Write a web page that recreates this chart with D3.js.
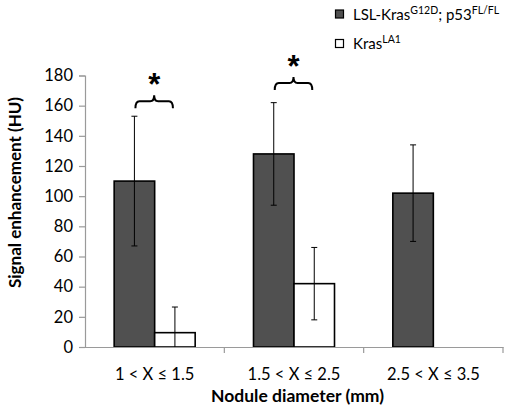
<!DOCTYPE html>
<html><head><meta charset="utf-8">
<script src="https://cdn.jsdelivr.net/npm/d3@7"></script>
<style>body{margin:0;background:#fff;} svg{display:block;}</style>
</head><body>
<svg id="chart" width="509" height="412"></svg>
<script>
const categories = ["1 < X \u2264 1.5", "1.5 < X \u2264 2.5", "2.5 < X \u2264 3.5"];
const seriesNames = ["G12D", "LA1"];
const krasG12D = [110, 128, 102];
const errG12D = [43, 34, 32];
const krasLA1 = [9.5, 42, null];
const errLA1 = [17, 24, null];
const yTicks = [0, 20, 40, 60, 80, 100, 120, 140, 160, 180];
const sigCategories = ["1 < X \u2264 1.5", "1.5 < X \u2264 2.5"];
const sigLevels = [163, 175];

(function() {
const font = "Lato, 'Open Sans', sans-serif";
const svg = d3.select("#chart");
const mLeft = 85, mRight = 503, mTop = 75.5, mBottom = 347;

const y = d3.scaleLinear().domain([0, 180]).range([mBottom, mTop]);
const x0 = d3.scaleBand().domain(categories).range([mLeft, mRight]).paddingInner(0).paddingOuter(0);
const x1 = d3.scaleBand().domain(seriesNames).range([0, x0.bandwidth()]).paddingInner(0).paddingOuter(0.72);

const rows = categories.map((c, i) => ({
  cat: c,
  vals: [
    {s: "G12D", v: krasG12D[i], e: errG12D[i]},
    {s: "LA1", v: krasLA1[i], e: errLA1[i]}
  ]
}));

// y axis
const yAxis = d3.axisLeft(y).tickValues(yTicks).tickSize(6).tickPadding(6);
const gy = svg.append("g").attr("transform", `translate(${mLeft},0)`).call(yAxis);
gy.select(".domain").attr("stroke", "#9a9a9a").attr("stroke-width", 1.2);
gy.selectAll(".tick line").attr("stroke", "#9a9a9a").attr("stroke-width", 1.2);
gy.selectAll(".tick text").attr("font-family", font).attr("font-size", 16.5).attr("fill", "#000");

// bars
const groups = svg.append("g").selectAll("g").data(rows).join("g")
  .attr("transform", d => `translate(${x0(d.cat)},0)`);
const colors = {G12D: "#505050", LA1: "#ffffff"};
groups.selectAll("rect").data(d => d.vals.filter(v => v.v != null)).join("rect")
  .attr("x", d => x1(d.s)).attr("width", x1.bandwidth())
  .attr("y", d => y(d.v)).attr("height", d => y(0) - y(d.v))
  .attr("fill", d => colors[d.s]).attr("stroke", "#000").attr("stroke-width", 1.6);

// x axis
const xAxis = d3.axisBottom(x0).tickSize(0).tickPadding(21);
const gx = svg.append("g").attr("transform", `translate(0,${mBottom})`).call(xAxis);
gx.select(".domain").attr("stroke", "#9a9a9a").attr("stroke-width", 1.2);
gx.selectAll(".tick text").attr("font-family", font).attr("font-size", 16.5).attr("fill", "#000");
const bounds = categories.map(c => x0(c)).concat([mRight]).slice(1);
gx.selectAll("line.bound").data(bounds).join("line").attr("class", "bound")
  .attr("x1", d => d).attr("x2", d => d).attr("y1", 0).attr("y2", 6)
  .attr("stroke", "#9a9a9a").attr("stroke-width", 1.2);

// error bars
const eb = groups.selectAll("g.err").data(d => d.vals.filter(v => v.v != null)).join("g").attr("class", "err");
eb.each(function(d) {
  const g = d3.select(this);
  const cx = x1(d.s) + x1.bandwidth() / 2;
  const hi = d.v + d.e, lo = Math.max(0, d.v - d.e);
  g.append("line").attr("x1", cx).attr("x2", cx).attr("y1", y(hi)).attr("y2", y(lo))
    .attr("stroke", "#000").attr("stroke-width", 1);
  g.append("line").attr("x1", cx - 3).attr("x2", cx + 3).attr("y1", y(hi)).attr("y2", y(hi))
    .attr("stroke", "#000").attr("stroke-width", 1);
  if (d.v - d.e > 0) {
    g.append("line").attr("x1", cx - 3).attr("x2", cx + 3).attr("y1", y(lo)).attr("y2", y(lo))
      .attr("stroke", "#000").attr("stroke-width", 1);
  }
});

// significance brackets
sigCategories.forEach((c, i) => {
  const xa = x0(c) + x1("G12D") + x1.bandwidth() / 2 + 1;
  const xb = x0(c) + x1("LA1") + x1.bandwidth() / 2 - 2;
  const xc = (xa + xb) / 2;
  const yt = y(sigLevels[i]);
  const r = 4;
  const p = d3.path();
  p.moveTo(xa, yt + 7);
  p.quadraticCurveTo(xa, yt, xa + r, yt);
  p.lineTo(xc - r, yt);
  p.quadraticCurveTo(xc, yt, xc, yt - 6);
  p.quadraticCurveTo(xc, yt, xc + r, yt);
  p.lineTo(xb - r, yt);
  p.quadraticCurveTo(xb, yt, xb, yt + 7);
  svg.append("path").attr("d", p.toString()).attr("fill", "none").attr("stroke", "#000").attr("stroke-width", 2);
  svg.append("text").attr("x", xc).attr("y", yt - 6).attr("text-anchor", "middle")
    .attr("font-family", "'Liberation Sans', Arial, sans-serif").attr("font-weight", "bold")
    .attr("font-size", 31).text("*");
});

// axis titles
svg.append("text").attr("transform", `translate(20.5,192.5) rotate(-90)`)
  .attr("text-anchor", "middle").attr("font-family", font).attr("font-weight", "bold")
  .attr("font-size", 17).text("Signal enhancement (HU)");
svg.append("text").attr("x", 297.5).attr("y", 402).attr("text-anchor", "middle")
  .attr("font-family", font).attr("font-weight", "bold").attr("font-size", 17.5).text("Nodule diameter (mm)");

// legend
const legend = [
  {fill: "#505050", y: 14, parts: [["LSL-Kras", false], ["G12D", true], ["; p53", false], ["FL/FL", true]]},
  {fill: "#ffffff", y: 43.5, parts: [["Kras", false], ["LA1", true]]}
];
legend.forEach(l => {
  svg.append("rect").attr("x", 335.5).attr("y", l.y - 4).attr("width", 8).attr("height", 8)
    .attr("fill", l.fill).attr("stroke", "#000").attr("stroke-width", 1.2);
  const t = svg.append("text").attr("x", 353).attr("y", l.y + 5.5).attr("font-family", font).attr("font-size", 15);
  l.parts.forEach(([s, sup], k) => {
    const ts = t.append("tspan").text(s);
    if (sup) ts.attr("font-size", 10.5).attr("dy", -6);
    else ts.attr("font-size", 15).attr("dy", k === 0 ? 0 : 6);
  });
});
})();
</script>
</body></html>
